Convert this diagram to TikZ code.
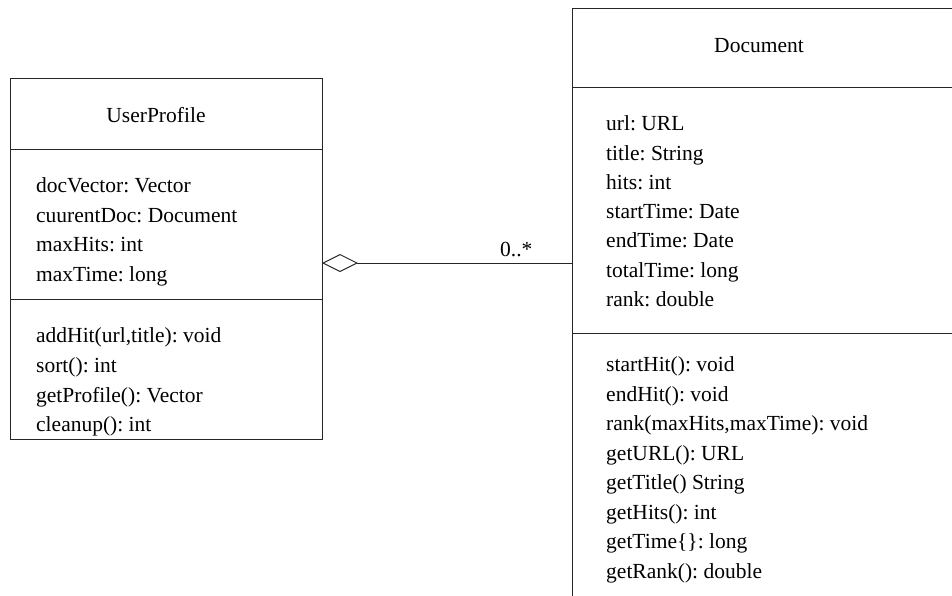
\documentclass[tikz,border=0pt]{standalone}
\usepackage{fontspec}
\setmainfont{Liberation Serif}
\usetikzlibrary{arrows.meta}
\frenchspacing
\begin{document}
\frenchspacing
\begin{tikzpicture}[x=1pt,y=-1pt,
  umlline/.style={line width=1pt,draw=black!85},
  txt/.style={anchor=base west,inner sep=0pt,font=\fontsize{21.5}{26}\selectfont\frenchspacing},
  hdr/.style={anchor=base,inner sep=0pt,font=\fontsize{21.5}{26}\selectfont}]
\useasboundingbox (0,0) rectangle (952,595);
% UserProfile box
\node[umlline,draw,rectangle,minimum width=312pt,minimum height=361pt,inner sep=0pt,anchor=north west] (up) at (10,78) {};
\draw[umlline] (up.north west |- 0,149) coordinate (upA) -- (up.north east |- 0,149) coordinate (upB);
\draw[umlline] (up.north west |- 0,299) coordinate (upC) -- (up.north east |- 0,299) coordinate (upD);
\node[hdr] (upname) at (156,122.3) {UserProfile};
\node[txt] (ua1) at (36,192.7) {docVector: Vector};
\node[txt] (ua2) at (36,222.3) {cuurentDoc: Document};
\node[txt] (ua3) at (36,251.7) {maxHits: int};
\node[txt] (ua4) at (36,281) {maxTime: long};
\node[txt] (um1) at (36,342.7) {addHit(url,title): void};
\node[txt] (um2) at (36,372.3) {sort(): int};
\node[txt] (um3) at (36,402.3) {getProfile(): Vector};
\node[txt] (um4) at (36,431.7) {cleanup(): int};
% Document box (cut off at right and bottom)
\coordinate (docTL) at (572,8);
\coordinate (docBL) at (572,600);
\coordinate (docTR) at (960,8);
\draw[umlline] (docBL) -- (docTL) -- (docTR);
\draw[umlline] (572,87) coordinate (dA) -- (960,87) coordinate (dB);
\draw[umlline] (572,333) coordinate (dC) -- (960,333) coordinate (dD);
\node[hdr] (docname) at (759,52.3) {Document};
\node[txt] (da1) at (606,130.7) {url: URL};
\node[txt] (da2) at (606,160) {title: String};
\node[txt] (da3) at (606,189.3) {hits: int};
\node[txt] (da4) at (606,218.6) {startTime: Date};
\node[txt] (da5) at (606,247.9) {endTime: Date};
\node[txt] (da6) at (606,277.2) {totalTime: long};
\node[txt] (da7) at (606,306.5) {rank: double};
\node[txt] (dm1) at (606,371.7) {startHit(): void};
\node[txt] (dm2) at (606,401.2) {endHit(): void};
\node[txt] (dm3) at (606,430.7) {rank(maxHits,maxTime): void};
\node[txt] (dm4) at (606,460.2) {getURL(): URL};
\node[txt] (dm5) at (606,489.7) {getTitle() String};
\node[txt] (dm6) at (606,519.2) {getHits(): int};
\node[txt] (dm7) at (606,548.7) {getTime\{\}: long};
\node[txt] (dm8) at (606,578.2) {getRank(): double};
% aggregation connector
\coordinate (aggL) at (322,263);
\coordinate (aggR) at (572,263);
\draw[umlline,{Diamond[open,length=36pt,width=18pt,line width=1pt]}-] (aggL) -- (aggR);
\node[txt] (mult) at (500,256.7) {0..*};
\end{tikzpicture}
\end{document}
